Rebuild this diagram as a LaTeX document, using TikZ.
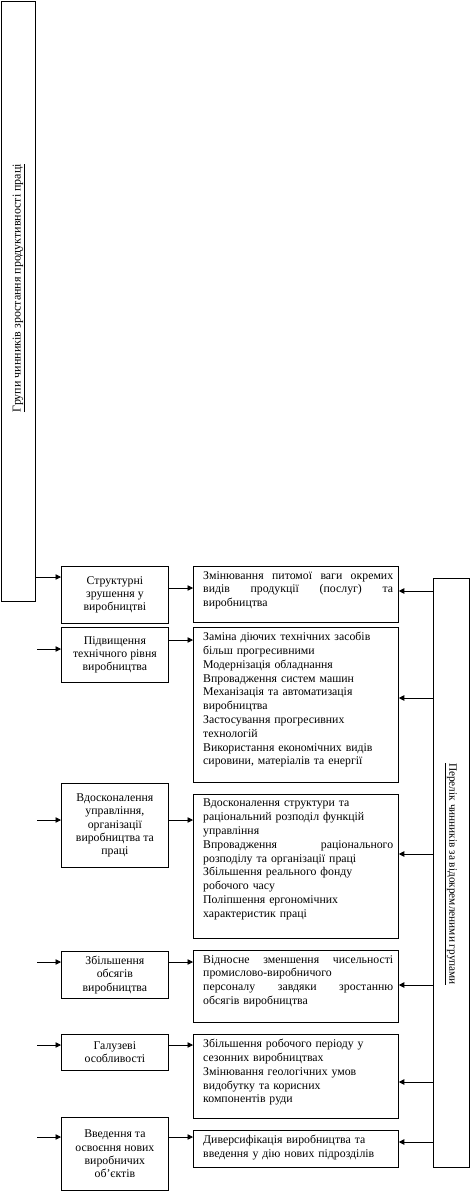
\documentclass[tikz,border=0pt]{standalone}
\usepackage{fontspec}
\setmainfont{Liberation Serif}
\usetikzlibrary{arrows.meta,calc}
\newcommand{\jline}[1]{\leavevmode\hbox to 190pt{#1}}
\begin{document}
\begin{tikzpicture}[x=1pt,y=-1pt,
  box/.style={draw,line width=0.8pt,inner sep=0pt,anchor=north west},
  ltext/.style={align=center,font=\fontsize{11.8}{13.2}\selectfont,inner sep=0pt},
  mtext/.style={align=left,text width=192pt,font=\fontsize{11.8}{13.8}\selectfont,inner sep=0pt,anchor=north west},
  vtext/.style={font=\fontsize{12}{13}\selectfont,inner sep=0pt},
  arr/.style={line width=0.8pt,-{Triangle[length=5.5pt,width=5.5pt]}},
]
\useasboundingbox (0,0) rectangle (470,1191);

% tall side boxes
\node[box,minimum width=34pt,minimum height=600pt] (L) at (1,1) {};
\node[vtext,rotate=90] (Lt) at (19,288) {\underline{Групи чинників зростання продуктивності праці}};
\node[box,minimum width=36pt,minimum height=589pt] (R) at (433,578) {};
\node[vtext,rotate=-90,font=\fontsize{11.3}{13}\selectfont] (Rt) at (451,874) {\underline{Перелік чинників за відокремленими групами}};

% left column
\node[box,minimum width=107pt,minimum height=57pt] (a1) at (61,566) {};
\node[box,minimum width=107pt,minimum height=55pt] (a2) at (61,627) {};
\node[box,minimum width=107pt,minimum height=84pt] (a3) at (61,783) {};
\node[box,minimum width=107pt,minimum height=47pt] (a4) at (61,951) {};
\node[box,minimum width=107pt,minimum height=36pt] (a5) at (61,1034) {};
\node[box,minimum width=107pt,minimum height=73pt] (a6) at (61,1117) {};
\node[ltext] (a1t) at (a1.center) {Структурні\\зрушення у\\виробництві};
\node[ltext] (a2t) at (a2.center) {Підвищення\\технічного рівня\\виробництва};
\node[ltext] (a3t) at (a3.center) {Вдосконалення\\управління,\\організації\\виробництва та\\праці};
\node[ltext] (a4t) at (a4.center) {Збільшення\\обсягів\\виробництва};
\node[ltext] (a5t) at (a5.center) {Галузеві\\особливості};
\node[ltext] (a6t) at (a6.center) {Введення та\\освоєння нових\\виробничих\\об’єктів};

% middle column
\node[box,minimum width=205pt,minimum height=56pt] (b1) at (193,566) {};
\node[box,minimum width=205pt,minimum height=155pt] (b2) at (193,627) {};
\node[box,minimum width=205pt,minimum height=144pt] (b3) at (193,794) {};
\node[box,minimum width=205pt,minimum height=72pt] (b4) at (193,950) {};
\node[box,minimum width=205pt,minimum height=84pt] (b5) at (193,1034) {};
\node[box,minimum width=205pt,minimum height=37pt] (b6) at (193,1130) {};
\node[mtext] (b1t) at ($(b1.north west)+(10,5)$) {\jline{Змінювання\hfill питомої\hfill ваги\hfill окремих}\\\jline{видів\hfill продукції\hfill (послуг)\hfill та}\\виробництва};
\node[mtext] (b2t) at ($(b2.north west)+(10,5)$) {Заміна діючих технічних засобів\\більш прогресивними\\Модернізація обладнання\\Впровадження систем машин\\Механізація та автоматизація\\виробництва\\Застосування прогресивних\\технологій\\Використання економічних видів\\сировини, матеріалів та енергії};
\node[mtext] (b3t) at ($(b3.north west)+(10,5)$) {Вдосконалення структури та\\раціональний розподіл функцій\\управління\\\jline{Впровадження\hfill раціонального}\\розподілу та організації праці\\Збільшення реального фонду\\робочого часу\\Поліпшення ергономічних\\характеристик праці};
\node[mtext] (b4t) at ($(b4.north west)+(10,5)$) {\jline{Відносне\hfill зменшення\hfill чисельності}\\промислово-виробничого\\\jline{персоналу\hfill завдяки\hfill зростанню}\\обсягів виробництва};
\node[mtext] (b5t) at ($(b5.north west)+(10,5)$) {Збільшення робочого періоду у\\сезонних виробництвах\\Змінювання геологічних умов\\видобутку та корисних\\компонентів руди};
\node[mtext] (b6t) at ($(b6.north west)+(10,5)$) {Диверсифікація виробництва та\\введення у дію нових підрозділів};

% free ends of the left arrows
\coordinate (l2) at (37,649);
\coordinate (l3) at (37,820);
\coordinate (l4) at (37,962);
\coordinate (l5) at (37,1045);
\coordinate (l6) at (37,1137);
\draw[arr] (L.east |- {(0,577)}) -- (a1.west |- {(0,577)});
\draw[arr] (l2) -- (l2 -| a2.west);
\draw[arr] (l3) -- (l3 -| a3.west);
\draw[arr] (l4) -- (l4 -| a4.west);
\draw[arr] (l5) -- (l5 -| a5.west);
\draw[arr] (l6) -- (l6 -| a6.west);

% left -> middle
\draw[arr] (a1.east |- {(0,588)}) -- (b1.west |- {(0,588)});
\draw[arr] (a2.east |- {(0,640)}) -- (b2.west |- {(0,640)});
\draw[arr] (a3.east |- {(0,820)}) -- (b3.west |- {(0,820)});
\draw[arr] (a4.east |- {(0,962)}) -- (b4.west |- {(0,962)});
\draw[arr] (a5.east |- {(0,1045)}) -- (b5.west |- {(0,1045)});
\draw[arr] (a6.east |- {(0,1137)}) -- (b6.west |- {(0,1137)});

% right -> middle
\draw[arr] (R.west |- {(0,591)}) -- (b1.east |- {(0,591)});
\draw[arr] (R.west |- {(0,698)}) -- (b2.east |- {(0,698)});
\draw[arr] (R.west |- {(0,854)}) -- (b3.east |- {(0,854)});
\draw[arr] (R.west |- {(0,985)}) -- (b4.east |- {(0,985)});
\draw[arr] (R.west |- {(0,1082)}) -- (b5.east |- {(0,1082)});
\draw[arr] (R.west |- {(0,1142)}) -- (b6.east |- {(0,1142)});
\end{tikzpicture}
\end{document}
